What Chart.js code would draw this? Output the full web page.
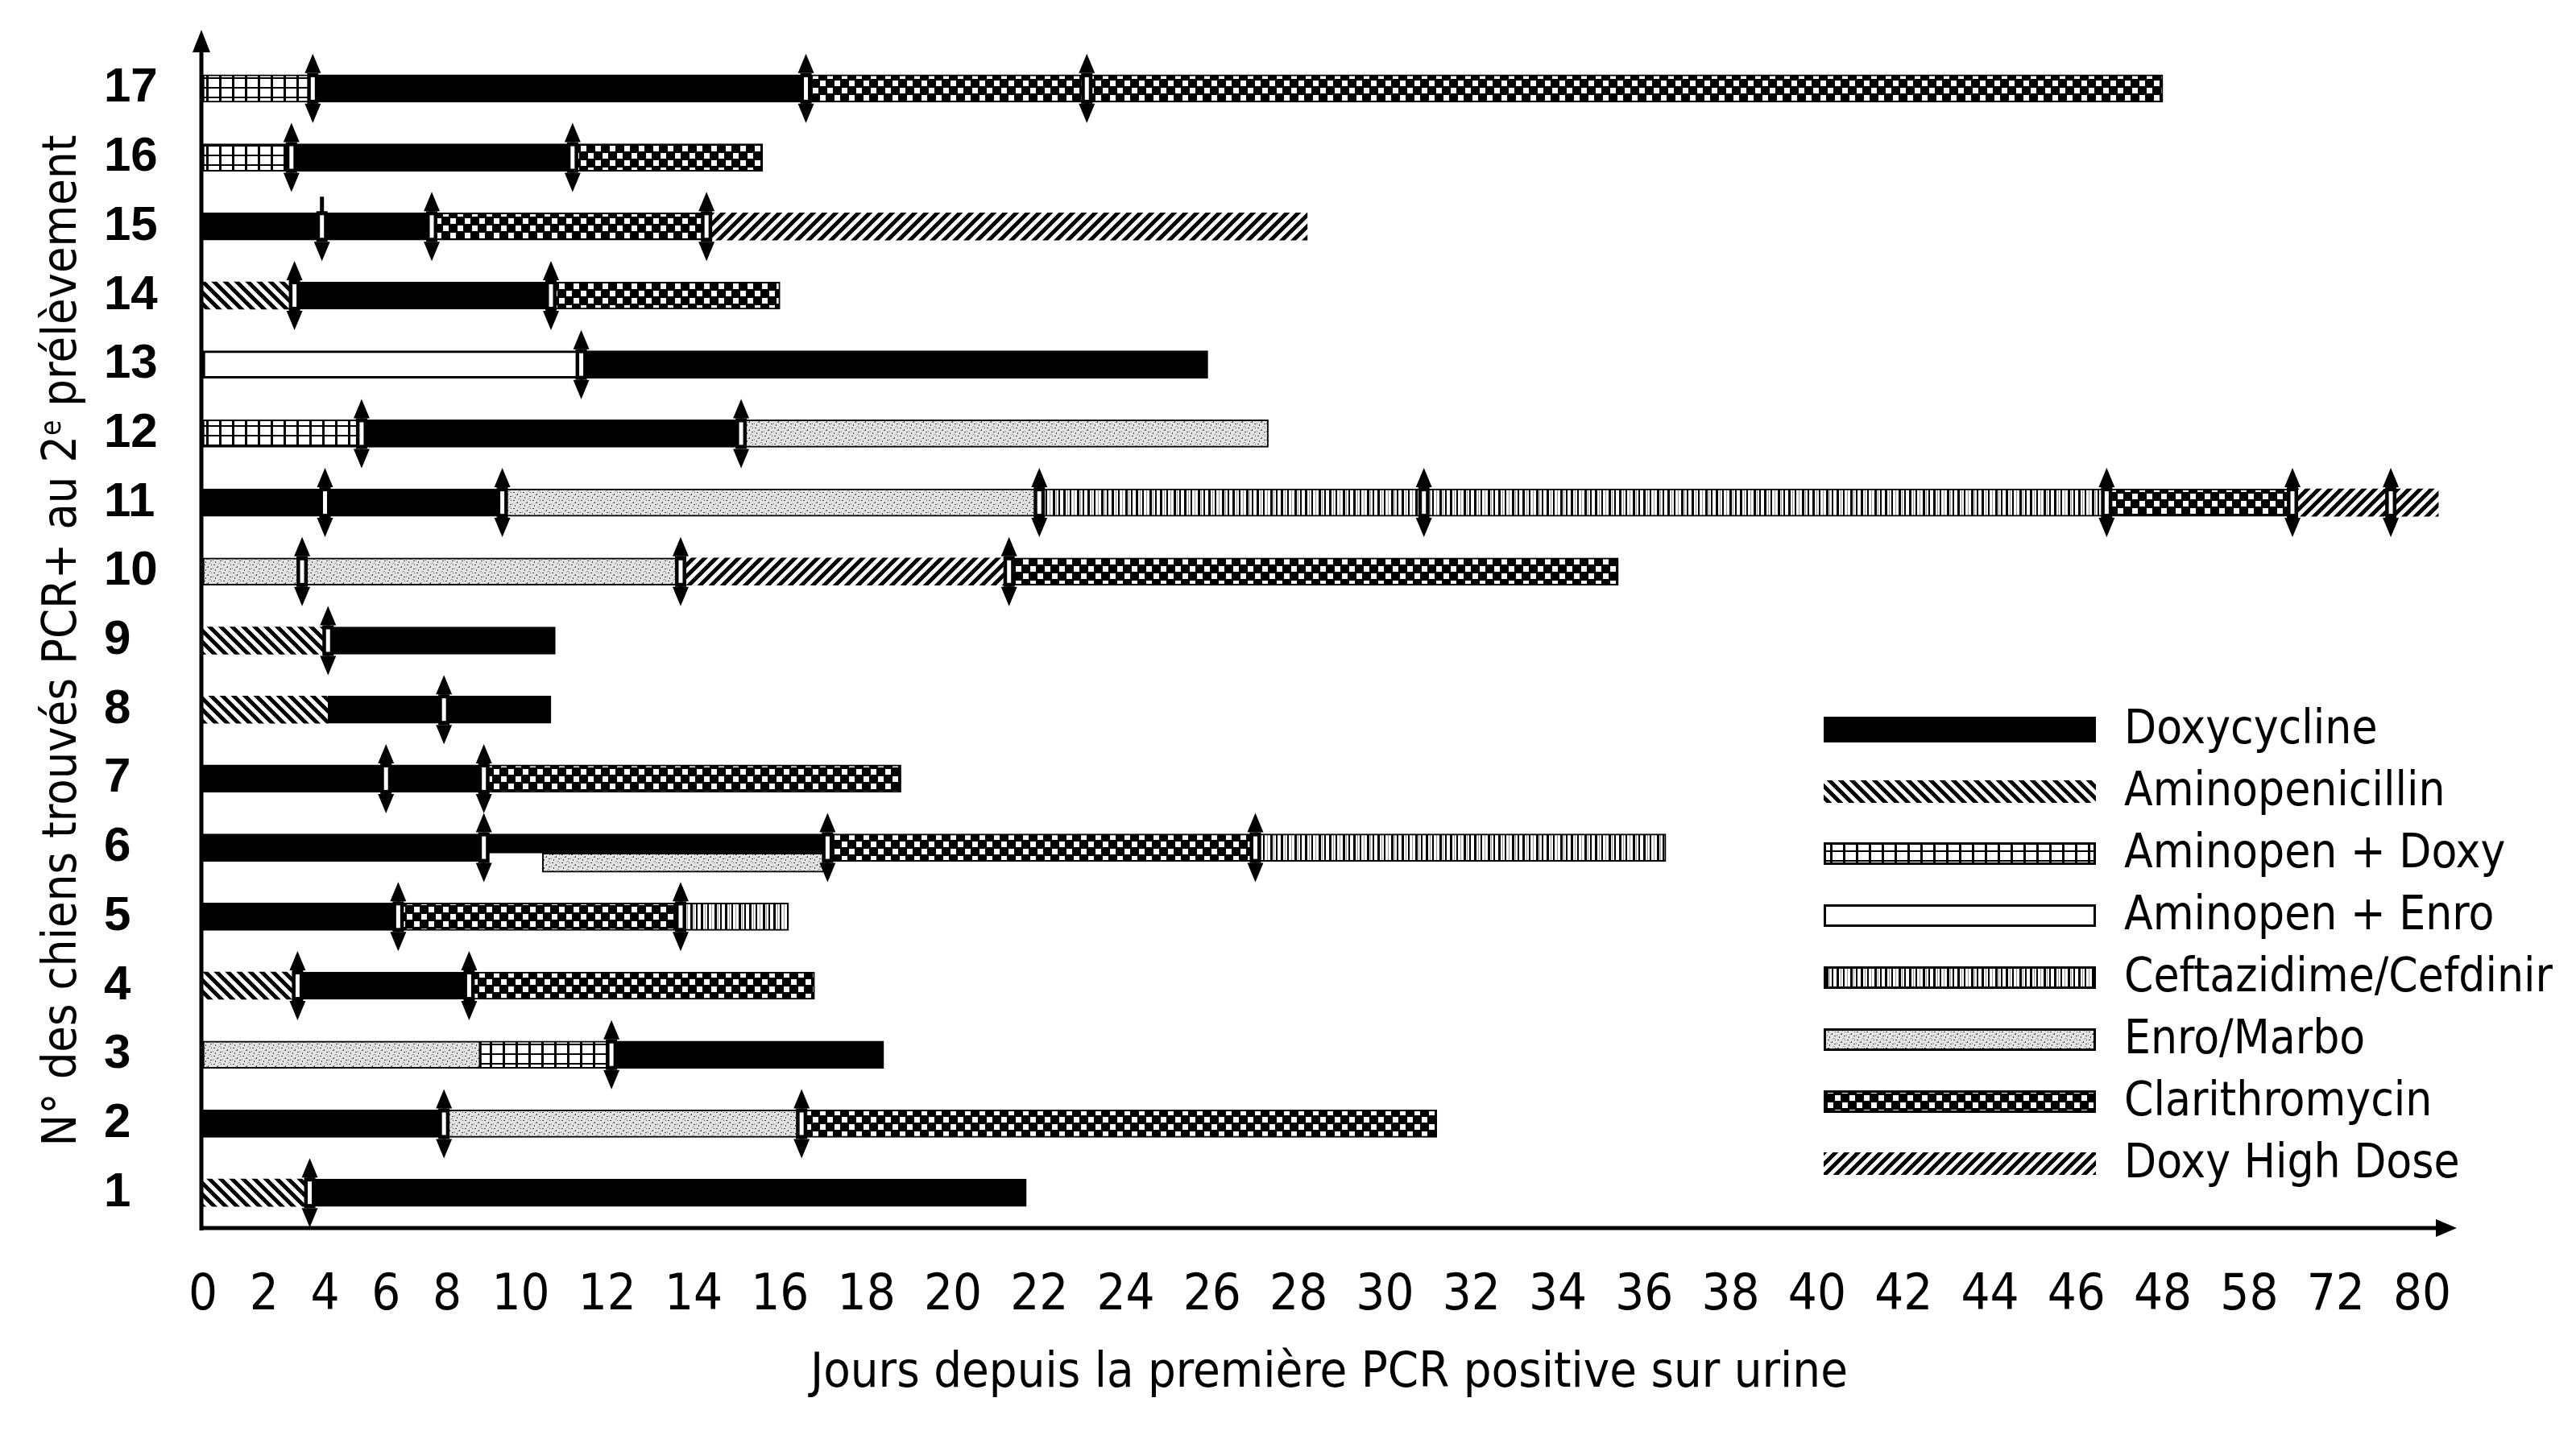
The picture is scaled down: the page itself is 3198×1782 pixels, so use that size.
<!DOCTYPE html>
<html>
<head>
<meta charset="utf-8">
<script src="https://cdn.jsdelivr.net/npm/chart.js@4.4.1/dist/chart.umd.min.js"></script>
<style>
  html, body { margin: 0; padding: 0; background: #fff; }
</style>
</head>
<body>
<canvas id="gantt" width="3198" height="1782"></canvas>
<script>
// dogs (y axis), bottom to top
var dogs = ['1','2','3','4','5','6','7','8','9','10','11','12','13','14','15','16','17'];

// x axis labels, as printed (the axis jumps after 48)
var tickLabels = ['0','2','4','6','8','10','12','14','16','18','20','22','24','26','28','30','32','34','36','38','40','42','44','46','48','58','72','80'];

var treatments = ['Doxycycline','Aminopenicillin','Aminopen + Doxy','Aminopen + Enro','Ceftazidime/Cefdinir','Enro/Marbo','Clarithromycin','Doxy High Dose'];

// [start day, end day] per dog 1..17, null = not given
var doxycycline     = [[3.5,21.7],[0,7.9],[12.1,18.4],[3.1,8.6],[0,6.4],[0,9],[0,9],[4.1,10.7],[4.1,10.8],null,[0,9.5],[5.2,15.1],[11.4,25.9],[3,10.7],[0,7.5],[2.9,11.2],[3.6,16.6]];
var aminopenicillin = [[0,3.5],null,null,[0,3.1],null,null,null,[0,4.1],[0,4.1],null,null,null,null,[0,3],null,null,null];
var aminopenDoxy    = [null,null,[8.9,12.1],null,null,null,null,null,null,null,null,[0,5.2],null,null,null,[0,2.9],[0,3.6]];
var aminopenEnro    = [null,null,null,null,null,null,null,null,null,null,null,null,[0,11.4],null,null,null,null];
var ceftazidime     = [null,null,null,null,[13.7,16.2],[27,36.5],null,null,null,null,[22,46.7],null,null,null,null,null,null];
var enroMarbo       = [null,[7.9,16.5],[0,8.9],null,null,null,null,null,null,[0,13.7],[9.5,22],[15.1,27.3],null,null,null,null,null];
var clarithromycin  = [null,[16.5,31.2],null,[8.6,16.8],[6.4,13.7],[17.1,27],[9,18.8],null,null,[21.3,35.4],[46.7,65],null,null,[10.7,16],[7.5,14.3],[11.2,15.6],[16.6,48]];
var doxyHighDose    = [null,null,null,null,null,null,null,null,null,[13.7,21.3],[65,81.5],null,null,null,[14.3,28.2],null,null];
// dog 6: doxy and enro/marbo given at the same time
var doxyTogether    = [null,null,null,null,null,[9,17.1],null,null,null,null,null,null,null,null,null,null,null];
var enroTogether    = [null,null,null,null,null,[10.5,17.1],null,null,null,null,null,null,null,null,null,null,null];

// sampling arrows (days) per dog 1..17
var arrows = [[3.5],[7.9,16.5],[12.1],[3.1,8.6],[6.4,13.7],[9,17.1,27],[6,9],[7.9],[4.1],[3.25,13.7,21.3],[4,9.5,22,30.9,46.7,65,77.1],[5.2,15.1],[11.4],[3,10.7],[3.9,7.5,14.3],[2.9,11.2],[3.6,16.6,23.1]];
var downOnlyArrows = [{dog:'15', day:3.9}];

// axis: labels are spaced like printed text (digit width + gap)
var GAP = 1.4;
var tickDays = tickLabels.map(Number);
var tickUnits = [];
var u = 0;
for (var i = 0; i < tickLabels.length; i++) {
  if (i > 0) u += (tickLabels[i-1].length + tickLabels[i].length) / 2 + GAP;
  tickUnits.push(u);
}
function dayToUnit(d) {
  var n = tickDays.length;
  for (var k = 1; k < n; k++) {
    if (d <= tickDays[k] || k == n - 1) {
      var a = tickDays[k-1], b = tickDays[k];
      return tickUnits[k-1] + (d - a) / (b - a) * (tickUnits[k] - tickUnits[k-1]);
    }
  }
}
function toUnits(arr) {
  return arr.map(function (s) { return s ? [dayToUnit(s[0]), dayToUnit(s[1])] : null; });
}

var narrow = '"Liberation Sans Narrow", "DejaVu Sans Condensed", "Liberation Sans", sans-serif';

// fill patterns
function tile(w, h, paint) {
  var c = document.createElement('canvas');
  c.width = w; c.height = h;
  var g = c.getContext('2d');
  g.fillStyle = '#fff';
  g.fillRect(0, 0, w, h);
  g.fillStyle = '#000'; g.strokeStyle = '#000';
  paint(g);
  return g.createPattern(c, 'repeat');
}
var fills = {};
fills['Doxycycline'] = '#000';
fills['Aminopenicillin'] = tile(14, 14, function (g) {
  g.lineWidth = 5;
  g.beginPath();
  g.moveTo(-7, -7); g.lineTo(21, 21);
  g.moveTo(-7, 7); g.lineTo(7, 21);
  g.moveTo(7, -7); g.lineTo(21, 7);
  g.stroke();
});
fills['Aminopen + Doxy'] = tile(16, 12, function (g) {
  g.fillRect(0, 0, 3, 12);
  g.fillRect(0, 0, 16, 2);
});
fills['Aminopen + Enro'] = '#fff';
fills['Ceftazidime/Cefdinir'] = tile(30, 10, function (g) {
  g.fillRect(0, 0, 3, 10); g.fillRect(8, 0, 2, 10);
  g.fillRect(17, 0, 3, 10); g.fillRect(24, 0, 2, 10);
  g.fillStyle = '#999';
  g.fillRect(5, 0, 1, 10); g.fillRect(13, 0, 1, 10); g.fillRect(21, 0, 1, 10);
});
fills['Enro/Marbo'] = tile(12, 10, function (g) {
  g.fillStyle = '#e4e4e4'; g.fillRect(0, 0, 12, 10);
  g.fillStyle = '#444';
  g.fillRect(1, 1, 2, 1); g.fillRect(6, 3, 1, 2); g.fillRect(9, 6, 2, 1);
  g.fillRect(3, 7, 1, 2); g.fillRect(10, 1, 1, 1);
  g.fillStyle = '#999';
  g.fillRect(4, 4, 2, 1); g.fillRect(0, 5, 1, 2); g.fillRect(8, 9, 2, 1); g.fillRect(7, 0, 1, 1);
});
fills['Clarithromycin'] = tile(18, 18, function (g) {
  g.fillRect(0, 0, 18, 18);
  g.fillStyle = '#fff';
  g.fillRect(1, 1, 7, 7);
  g.fillRect(10, 10, 7, 7);
});
fills['Doxy High Dose'] = tile(14, 14, function (g) {
  g.lineWidth = 5;
  g.beginPath();
  g.moveTo(-7, 21); g.lineTo(21, -7);
  g.moveTo(-7, 7); g.lineTo(7, -7);
  g.moveTo(7, 21); g.lineTo(21, 7);
  g.stroke();
});
var borders = {'Doxycycline':2,'Aminopenicillin':0,'Aminopen + Doxy':2,'Aminopen + Enro':3,'Ceftazidime/Cefdinir':2,'Enro/Marbo':2,'Clarithromycin':2,'Doxy High Dose':0};

function barSet(name, values, split) {
  return {
    label: name,
    data: toUnits(values),
    backgroundColor: fills[name],
    borderColor: '#000',
    borderWidth: borders[name],
    borderSkipped: false,
    barThickness: 34,
    grouped: false,
    split: split
  };
}

// dog 6 overlap: shift the two concurrent bars to top / bottom half
var splitBars = {
  id: 'splitBars',
  afterDatasetsUpdate: function (chart) {
    chart.data.datasets.forEach(function (ds, i) {
      if (!ds.split) return;
      chart.getDatasetMeta(i).data.forEach(function (bar) {
        var h = bar.height, top = bar.y - h / 2, nh = h * 0.7;
        bar.height = nh;
        bar.y = ds.split == 'top' ? top + nh / 2 : top + nh + nh / 2;
      });
    });
  }
};

function drawArrow(ctx, x, yc, h, downOnly) {
  var ext = 26, head = 24, hw = 10;
  var yTop = yc - h / 2 - ext, yBot = yc + h / 2 + ext;
  ctx.fillStyle = '#000';
  ctx.strokeStyle = '#000';
  ctx.lineWidth = 5;
  ctx.beginPath();
  ctx.moveTo(x, downOnly ? yTop + 6 : yTop + head);
  ctx.lineTo(x, yBot - head);
  ctx.stroke();
  ctx.beginPath();
  if (!downOnly) {
    ctx.moveTo(x, yTop); ctx.lineTo(x - hw, yTop + head); ctx.lineTo(x + hw, yTop + head); ctx.closePath();
  }
  ctx.moveTo(x, yBot); ctx.lineTo(x - hw, yBot - head); ctx.lineTo(x + hw, yBot - head); ctx.closePath();
  ctx.fill();
  ctx.fillRect(x - 7, yc - h / 2 - 2, 14, h + 4);
  ctx.fillStyle = '#fff';
  ctx.fillRect(x - 2.5, yc - h / 2 + 3, 5, h - 6);
}

var decorations = {
  id: 'decorations',
  afterDatasetsDraw: function (chart) {
    var ctx = chart.ctx, area = chart.chartArea;
    var xs = chart.scales.x, ys = chart.scales.y;
    ctx.save();
    // axes with arrow heads
    ctx.strokeStyle = '#000'; ctx.fillStyle = '#000'; ctx.lineWidth = 5;
    var ax = area.left - 2, ay = area.bottom + 1;
    ctx.beginPath();
    ctx.moveTo(ax, ay + 3); ctx.lineTo(ax, 60);
    ctx.moveTo(ax - 2, ay); ctx.lineTo(area.right - 20, ay);
    ctx.stroke();
    ctx.beginPath();
    ctx.moveTo(ax, 37); ctx.lineTo(ax - 11, 65); ctx.lineTo(ax + 11, 65); ctx.closePath();
    ctx.moveTo(area.right + 2, ay); ctx.lineTo(area.right - 24, ay - 11); ctx.lineTo(area.right - 24, ay + 11); ctx.closePath();
    ctx.fill();
    // sampling arrows
    arrows.forEach(function (list, i) {
      var yc = ys.getPixelForValue(i);
      list.forEach(function (d) {
        var down = downOnlyArrows.some(function (a) { return a.dog == dogs[i] && a.day == d; });
        drawArrow(ctx, xs.getPixelForValue(dayToUnit(d)), yc, 34, down);
      });
    });
    ctx.restore();
  },
  afterDraw: function (chart) {
    var ctx = chart.ctx, area = chart.chartArea;
    ctx.save();
    // y title with superscript
    var size = 59;
    var p1 = 'N° des chiens trouvés PCR+ au 2', p2 = 'e', p3 = ' prélèvement';
    ctx.translate(94, (area.top + area.bottom) / 2);
    ctx.rotate(-Math.PI / 2);
    ctx.fillStyle = '#000';
    ctx.textBaseline = 'alphabetic';
    ctx.font = size + 'px ' + narrow;
    var w1 = ctx.measureText(p1).width, w3 = ctx.measureText(p3).width;
    ctx.font = Math.round(size * 0.6) + 'px ' + narrow;
    var w2 = ctx.measureText(p2).width;
    var x0 = -(w1 + w2 + w3) / 2;
    ctx.font = size + 'px ' + narrow;
    ctx.fillText(p1, x0, 0);
    ctx.fillText(p3, x0 + w1 + w2, 0);
    ctx.font = Math.round(size * 0.6) + 'px ' + narrow;
    ctx.fillText(p2, x0 + w1, -size * 0.33);
    ctx.restore();

    // legend
    ctx.save();
    var lx = 2264, lw = 338, top = 906, pitch = 77;
    ctx.font = '58px ' + narrow;
    ctx.textBaseline = 'middle';
    ctx.fillStyle = '#000';
    treatments.forEach(function (name, i) {
      var cy = top + i * pitch, sh = i == 0 ? 32 : 28;
      ctx.fillStyle = fills[name];
      ctx.fillRect(lx, cy - sh / 2, lw, sh);
      if (borders[name]) {
        ctx.strokeStyle = '#000'; ctx.lineWidth = 3;
        ctx.strokeRect(lx + 1.5, cy - sh / 2 + 1.5, lw - 3, sh - 3);
      }
      ctx.fillStyle = '#000';
      ctx.fillText(name, 2637, cy + 2);
    });
    ctx.restore();
  }
};

Chart.defaults.font.family = narrow;
Chart.defaults.color = '#000';

new Chart(document.getElementById('gantt'), {
  type: 'bar',
  data: {
    labels: dogs,
    datasets: [
      barSet('Doxycycline', doxycycline),
      barSet('Aminopenicillin', aminopenicillin),
      barSet('Aminopen + Doxy', aminopenDoxy),
      barSet('Aminopen + Enro', aminopenEnro),
      barSet('Ceftazidime/Cefdinir', ceftazidime),
      barSet('Enro/Marbo', enroMarbo),
      barSet('Clarithromycin', clarithromycin),
      barSet('Doxy High Dose', doxyHighDose),
      barSet('Doxycycline', doxyTogether, 'top'),
      barSet('Enro/Marbo', enroTogether, 'bottom')
    ]
  },
  options: {
    indexAxis: 'y',
    responsive: false,
    animation: false,
    devicePixelRatio: 1,
    layout: { padding: { left: 129, right: 150, top: 67, bottom: 39 } },
    plugins: { legend: { display: false }, tooltip: { enabled: false } },
    scales: {
      x: {
        type: 'linear',
        min: 0,
        max: tickUnits[tickUnits.length - 1] + 1.3,
        grid: { display: false, drawTicks: false },
        border: { display: false },
        afterBuildTicks: function (scale) {
          scale.ticks = tickUnits.map(function (v) { return { value: v }; });
        },
        ticks: {
          autoSkip: false, maxRotation: 0, padding: 48,
          font: { size: 63 },
          callback: function (v, i) { return tickLabels[i]; }
        },
        title: { display: true, text: 'Jours depuis la première PCR positive sur urine', font: { size: 61 }, padding: 0 },
        afterFit: function (scale) { scale.height = 219; }
      },
      y: {
        type: 'category',
        reverse: true,
        grid: { display: false, drawTicks: false },
        border: { display: false },
        ticks: { crossAlign: 'far', padding: 0, font: { size: 60, weight: 'bold', family: '"Liberation Sans", Arial, sans-serif' } },
        afterFit: function (scale) { scale.width = 123; }
      }
    }
  },
  plugins: [splitBars, decorations]
});
</script>
</body>
</html>
